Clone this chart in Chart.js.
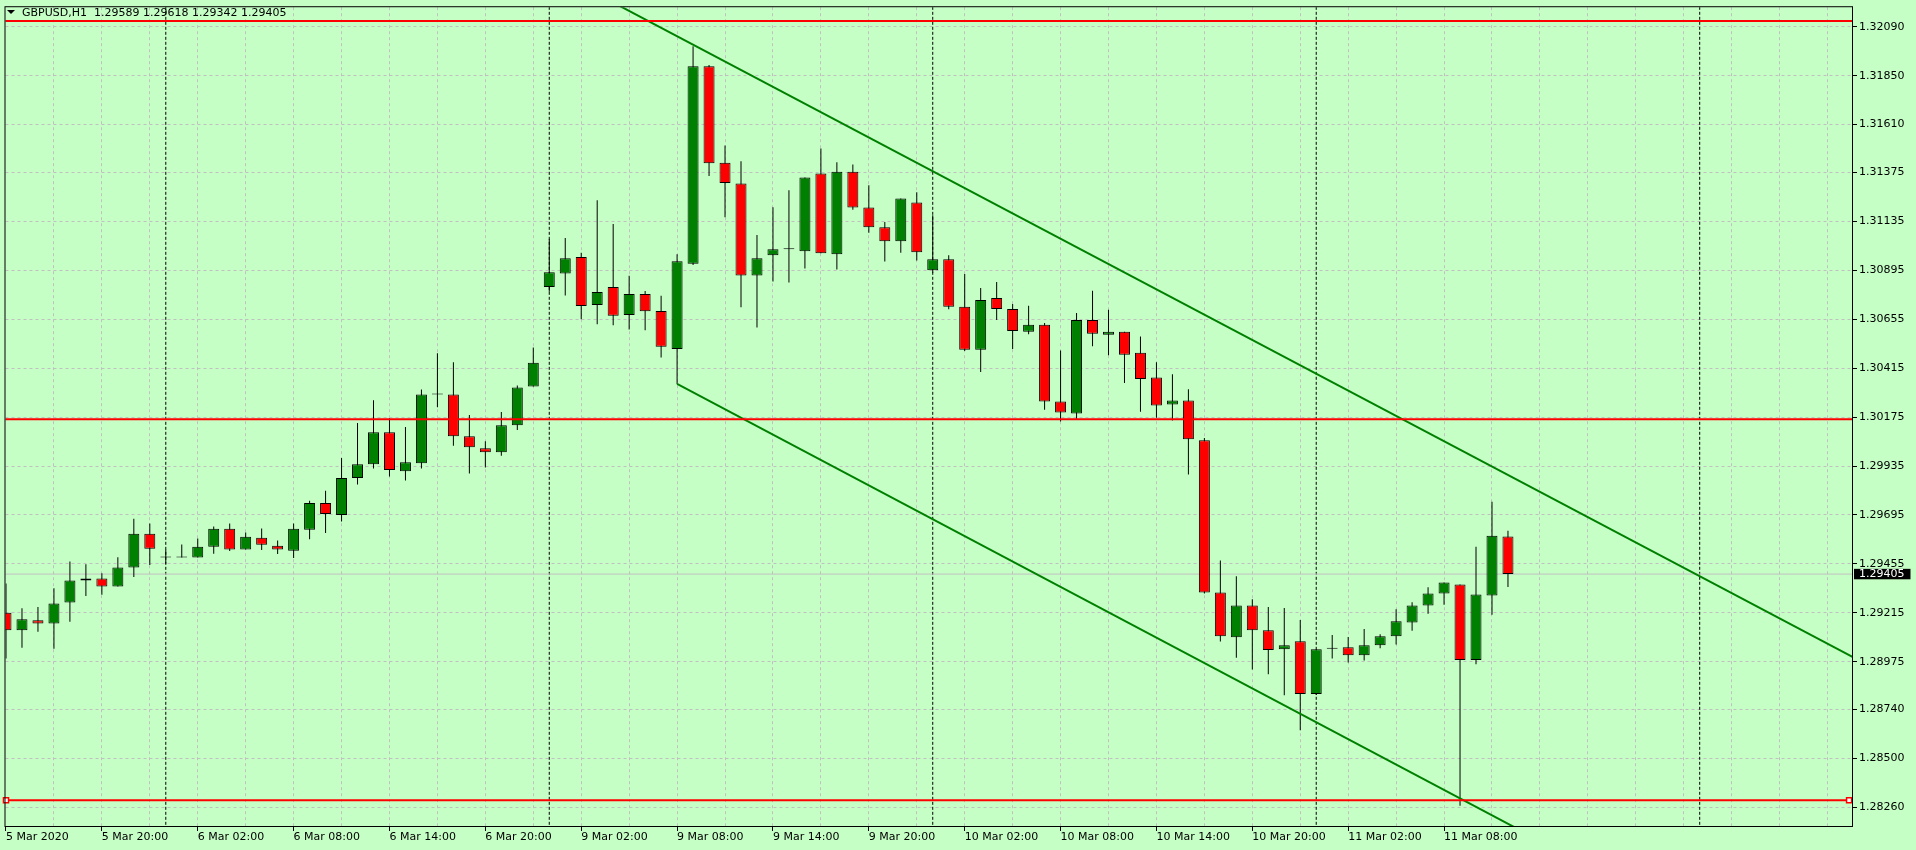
<!DOCTYPE html>
<html>
<head>
<meta charset="utf-8">
<title>GBPUSD,H1</title>
<script src="https://cdn.jsdelivr.net/npm/chart.js@4.4.1/dist/chart.umd.min.js"></script>
<style>
  html, body { margin: 0; padding: 0; background: #c6ffc6; overflow: hidden; }
  #wrap { position: relative; width: 1916px; height: 850px; }
  #header { position: absolute; left: 7px; top: 6px; font: 11px "DejaVu Sans", sans-serif; line-height: 13px; color: #000; white-space: pre; }
  #header .tri { display: inline-block; width: 0; height: 0; border-left: 4px solid transparent; border-right: 4px solid transparent; border-top: 4px solid #000; margin-right: 7px; vertical-align: 2px; }
</style>
</head>
<body>
<div id="wrap">
  <canvas id="chart" width="1916" height="850"></canvas>
  <div id="header"><span class="tri"></span><span id="headerText"></span></div>
</div>
<script>
const symbol = 'GBPUSD,H1';

// hourly bars, 5 Mar 14:00 -> 11 Mar 12:00
const opens = [
  1.29215, 1.29129, 1.29178, 1.29163, 1.29266, 1.29373, 1.29383, 1.29344, 1.29437, 1.29603,
  1.29486, 1.29486, 1.29486, 1.29539, 1.29627, 1.29525, 1.29583, 1.29544, 1.29520, 1.29622,
  1.29754, 1.29695, 1.29876, 1.29944, 1.30101, 1.29910, 1.29949, 1.30286, 1.30286, 1.30081,
  1.30022, 1.30003, 1.30135, 1.30325, 1.30813, 1.30880, 1.30960, 1.30725, 1.30813, 1.30676,
  1.30779, 1.30696, 1.30509, 1.30928, 1.31897, 1.31423, 1.31321, 1.30870, 1.30969, 1.30999,
  1.30989, 1.31370, 1.30974, 1.31379, 1.31204, 1.31106, 1.31038, 1.31228, 1.30896, 1.30950,
  1.30716, 1.30506, 1.30759, 1.30706, 1.30594, 1.30628, 1.30252, 1.30193, 1.30652, 1.30579,
  1.30594, 1.30491, 1.30369, 1.30237, 1.30257, 1.30062, 1.29315, 1.29095, 1.29251, 1.29129,
  1.29036, 1.29075, 1.28817, 1.29038, 1.29046, 1.29007, 1.29056, 1.29100, 1.29168, 1.29251,
  1.29310, 1.29354, 1.28983, 1.29300, 1.29589
];
const highs = [
  1.29359, 1.29237, 1.29243, 1.29336, 1.29467, 1.29453, 1.29409, 1.29487, 1.29677, 1.29653,
  1.29525, 1.29550, 1.29580, 1.29638, 1.29653, 1.29609, 1.29628, 1.29570, 1.29653, 1.29765,
  1.29814, 1.29975, 1.30146, 1.30258, 1.30170, 1.30126, 1.30310, 1.30488, 1.30444, 1.30185,
  1.30057, 1.30200, 1.30330, 1.30517, 1.31049, 1.31054, 1.30981, 1.31239, 1.31122, 1.30868,
  1.30794, 1.30771, 1.30974, 1.31994, 1.31903, 1.31508, 1.31430, 1.31068, 1.31205, 1.31288,
  1.31350, 1.31493, 1.31425, 1.31415, 1.31312, 1.31132, 1.31248, 1.31278, 1.31165, 1.30969,
  1.30877, 1.30808, 1.30838, 1.30730, 1.30722, 1.30637, 1.30502, 1.30686, 1.30795, 1.30702,
  1.30594, 1.30570, 1.30444, 1.30385, 1.30312, 1.30073, 1.29472, 1.29394, 1.29281, 1.29243,
  1.29238, 1.29180, 1.29036, 1.29106, 1.29096, 1.29135, 1.29110, 1.29232, 1.29267, 1.29340,
  1.29364, 1.29354, 1.29539, 1.29760, 1.29618
];
const lows = [
  1.28991, 1.29044, 1.29122, 1.29039, 1.29171, 1.29298, 1.29303, 1.29344, 1.29391, 1.29449,
  1.29456, 1.29486, 1.29486, 1.29505, 1.29518, 1.29525, 1.29523, 1.29503, 1.29484, 1.29576,
  1.29606, 1.29663, 1.29845, 1.29923, 1.29884, 1.29864, 1.29923, 1.30224, 1.30035, 1.29898,
  1.29928, 1.29986, 1.30112, 1.30325, 1.30790, 1.30772, 1.30655, 1.30631, 1.30626, 1.30605,
  1.30601, 1.30468, 1.30338, 1.30921, 1.31358, 1.31156, 1.30714, 1.30615, 1.30840, 1.30836,
  1.30904, 1.30979, 1.30899, 1.31192, 1.31080, 1.30938, 1.30982, 1.30943, 1.30883, 1.30704,
  1.30499, 1.30396, 1.30652, 1.30509, 1.30582, 1.30211, 1.30154, 1.30167, 1.30523, 1.30479,
  1.30343, 1.30201, 1.30172, 1.30159, 1.29894, 1.29310, 1.29074, 1.28995, 1.28937, 1.28913,
  1.28810, 1.28639, 1.28812, 1.28991, 1.28971, 1.28981, 1.29041, 1.29059, 1.29127, 1.29210,
  1.29254, 1.28268, 1.28963, 1.29205, 1.29342
];
const closes = [
  1.29129, 1.29183, 1.29163, 1.29261, 1.29373, 1.29383, 1.29344, 1.29437, 1.29603, 1.29529,
  1.29486, 1.29486, 1.29539, 1.29627, 1.29525, 1.29588, 1.29549, 1.29525, 1.29627, 1.29754,
  1.29700, 1.29876, 1.29944, 1.30101, 1.29915, 1.29954, 1.30286, 1.30286, 1.30081, 1.30027,
  1.30003, 1.30135, 1.30320, 1.30442, 1.30886, 1.30955, 1.30720, 1.30789, 1.30672, 1.30779,
  1.30694, 1.30520, 1.30940, 1.31897, 1.31421, 1.31324, 1.30870, 1.30955, 1.30999, 1.30999,
  1.31350, 1.30979, 1.31379, 1.31204, 1.31106, 1.31038, 1.31248, 1.30984, 1.30950, 1.30716,
  1.30506, 1.30750, 1.30706, 1.30598, 1.30628, 1.30252, 1.30198, 1.30652, 1.30584, 1.30594,
  1.30481, 1.30362, 1.30232, 1.30257, 1.30066, 1.29315, 1.29100, 1.29251, 1.29129, 1.29032,
  1.29056, 1.28817, 1.29036, 1.29038, 1.29007, 1.29056, 1.29100, 1.29173, 1.29251, 1.29310,
  1.29364, 1.28983, 1.29305, 1.29593, 1.29405
];

// one label every 6 bars, starting at bar 0
const timeLabels = [
  '5 Mar 2020', '5 Mar 20:00', '6 Mar 02:00', '6 Mar 08:00', '6 Mar 14:00', '6 Mar 20:00',
  '9 Mar 02:00', '9 Mar 08:00', '9 Mar 14:00', '9 Mar 20:00', '10 Mar 02:00', '10 Mar 08:00',
  '10 Mar 14:00', '10 Mar 20:00', '11 Mar 02:00', '11 Mar 08:00'
];
const labelEvery = 6;
const gridEvery = 3;
const slotCount = 116;
const daySeparators = [10, 34, 58, 82, 106];   // bar index of each midnight

const priceTicks = [
  1.32090, 1.31850, 1.31610, 1.31375, 1.31135, 1.30895, 1.30655, 1.30415, 1.30175,
  1.29935, 1.29695, 1.29455, 1.29215, 1.28975, 1.28740, 1.28500, 1.28260
];
const yMin = 1.28169, yMax = 1.32186;
const xMin = -0.03125, xMax = 115.53125;

// drawn objects
const resistanceLevels = [1.32119, 1.30164];
const supportLevel = 1.28295;
const supportAnchors = [0, 115.35];
const channelUpper = [{ x: 36, y: 1.32292 }, { x: 116, y: 1.28980 }];
const channelLower = [{ x: 42, y: 1.30338 }, { x: 116, y: 1.27267 }];

const bull = '#008000';
const bear = '#ff0000';
const gridColor = '#c0c0c0';
const last = closes.length - 1;
const lastClose = closes[last];
const fmt = (v) => v.toFixed(5);

document.getElementById('headerText').textContent =
  `${symbol}  ${fmt(opens[last])} ${fmt(highs[last])} ${fmt(lows[last])} ${fmt(lastClose)}`;

const labelAt = (v) => (v % labelEvery === 0 && timeLabels[v / labelEvery]) || '';
const isBid = (c) => !!c.tick && c.tick.value === lastClose;

const bodies = opens.map((o, i) => ({ x: i, y: [o, closes[i]] }));
const wicks = lows.map((l, i) => ({ x: i, y: [l, highs[i]] }));
const bodyColors = opens.map((o, i) => closes[i] >= o ? bull : bear);

function hLine(y, color, width, order) {
  return {
    type: 'line', data: [{ x: -1, y }, { x: slotCount + 1, y }],
    borderColor: color, borderWidth: width, pointRadius: 0, clip: 0, order
  };
}

const datasets = [
  ...resistanceLevels.map(v => hLine(v, bear, 2, 0)),
  {
    type: 'line', data: supportAnchors.map(x => ({ x, y: supportLevel })),
    borderColor: bear, borderWidth: 2, clip: 6, order: 0,
    pointStyle: 'rect', pointRadius: 3.6, pointBorderWidth: 1.5,
    pointBackgroundColor: '#fff', pointBorderColor: bear
  },
  { type: 'line', data: channelUpper, borderColor: bull, borderWidth: 2, pointRadius: 0, clip: 0, order: 1 },
  { type: 'line', data: channelLower, borderColor: bull, borderWidth: 2, pointRadius: 0, clip: 0, order: 1 },
  {
    type: 'bar', data: bodies, backgroundColor: bodyColors, borderColor: '#000', borderWidth: 1,
    borderSkipped: false, barThickness: 11, minBarLength: 1, inflateAmount: 0, grouped: false, clip: 0, order: 2
  },
  {
    type: 'bar', data: wicks, backgroundColor: '#000', borderWidth: 0,
    barThickness: 1, inflateAmount: 0, grouped: false, clip: 0, order: 3
  },
  hLine(lastClose, gridColor, 1, 4),
  ...daySeparators.map(n => ({
    type: 'line', data: [{ x: n, y: yMin - 0.01 }, { x: n, y: yMax + 0.01 }],
    borderColor: '#000', borderWidth: 1, borderDash: [3, 2], pointRadius: 0, clip: 0, order: 5
  }))
];

// black frame round the plot area
const frame = {
  id: 'frame',
  afterDraw(chart) {
    const { ctx, chartArea: a } = chart;
    ctx.save();
    ctx.strokeStyle = '#000';
    ctx.lineWidth = 1;
    ctx.strokeRect(a.left - 0.5, a.top - 0.5, a.right - a.left + 1, a.bottom - a.top + 1);
    ctx.restore();
  }
};

Chart.defaults.font.family = 'DejaVu Sans';
Chart.defaults.font.size = 11;
Chart.defaults.color = '#000';

new Chart(document.getElementById('chart'), {
  type: 'bar',
  data: { datasets },
  plugins: [frame],
  options: {
    responsive: false,
    devicePixelRatio: 1,
    animation: false,
    events: [],
    layout: { padding: { left: 3, top: 3, right: 0, bottom: 0 } },
    plugins: { legend: { display: false }, tooltip: { enabled: false } },
    scales: {
      x: {
        type: 'linear', min: xMin, max: xMax, offset: false,
        afterBuildTicks: (s) => {
          const t = [];
          for (let n = 0; n < slotCount; n += gridEvery) t.push({ value: n });
          s.ticks = t;
        },
        afterFit: (s) => { s.height = 24; },
        grid: {
          offset: false, lineWidth: 1, tickLength: 5,
          color: (c) => (c.tick && c.tick.value === 0) ? 'transparent' : gridColor,
          tickColor: (c) => (c.tick && labelAt(c.tick.value)) ? '#000' : 'transparent'
        },
        border: { display: false, dash: [3, 3] },
        ticks: {
          autoSkip: false, maxRotation: 0, minRotation: 0, align: 'start', padding: 0,
          callback: (v) => labelAt(v)
        }
      },
      y: {
        position: 'right', min: yMin, max: yMax,
        afterBuildTicks: (s) => {
          s.ticks = priceTicks.map(v => ({ value: v })).concat([{ value: lastClose }]);
        },
        afterFit: (s) => { s.width = 64; },
        grid: {
          lineWidth: 1, tickLength: 5,
          color: (c) => isBid(c) ? 'transparent' : gridColor,
          tickColor: (c) => isBid(c) ? 'transparent' : '#000'
        },
        border: { display: false, dash: [3, 3] },
        ticks: {
          autoSkip: false, padding: 2,
          font: { family: 'DejaVu Sans', size: 11, lineHeight: 0.95 },
          color: (c) => isBid(c) ? '#fff' : '#000',
          showLabelBackdrop: (c) => isBid(c),
          backdropColor: '#000',
          backdropPadding: { top: 0, bottom: 0, left: 5, right: 6 },
          callback: (v) => fmt(v)
        }
      }
    }
  }
});
</script>
</body>
</html>
